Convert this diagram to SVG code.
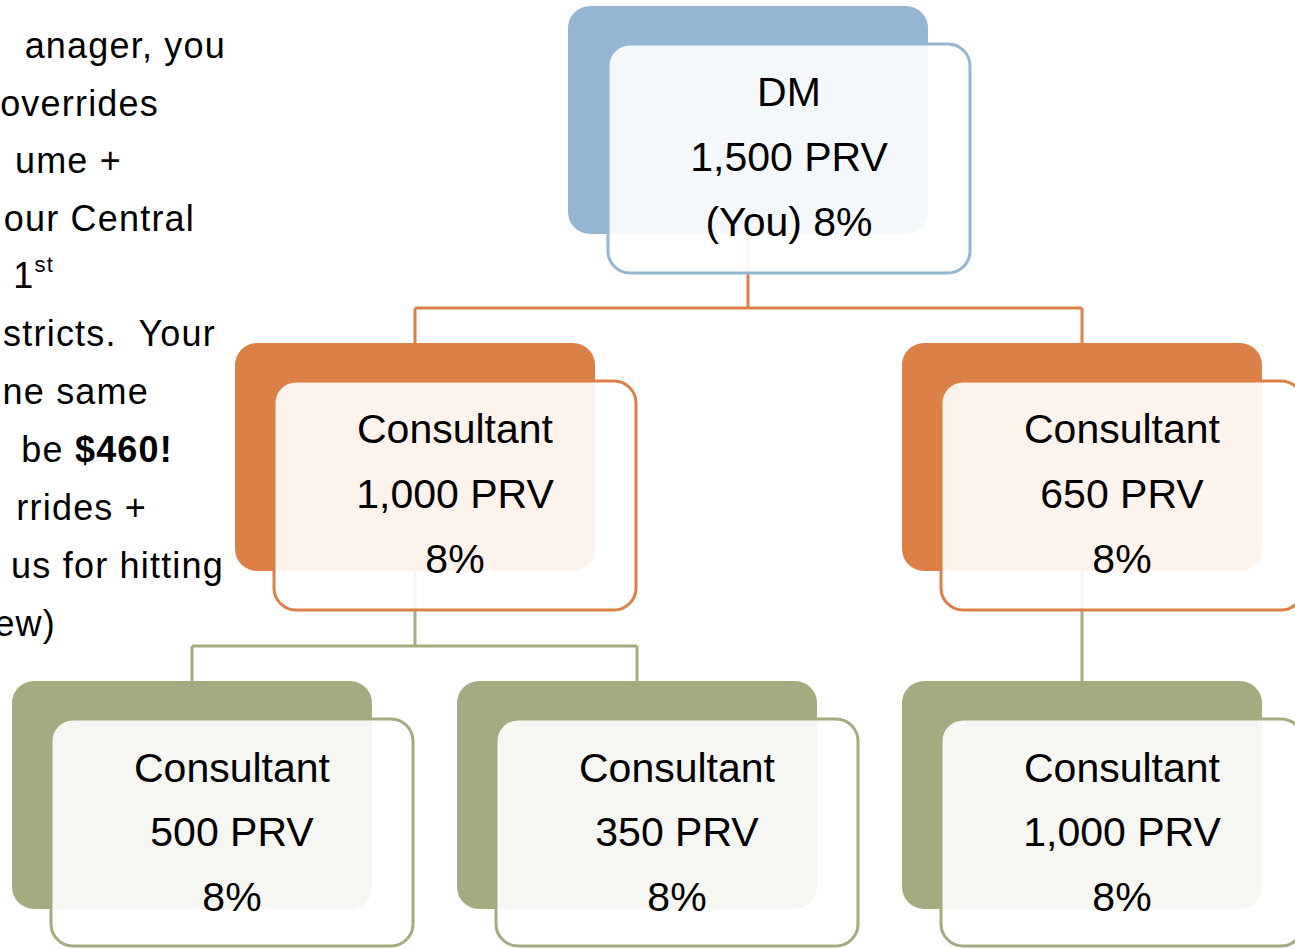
<svg xmlns="http://www.w3.org/2000/svg" width="1295" height="948" viewBox="0 0 1295 948">
<defs>
<style>
.t{font-family:"Liberation Sans",Arial,sans-serif;font-size:41px;fill:#000;text-anchor:middle}
.side{font-family:"Liberation Sans",Arial,sans-serif;font-size:36px;fill:#000;text-anchor:end;letter-spacing:1.2px}
.back{stroke:none}
.front{fill:#fff;fill-opacity:0.9;stroke-width:3}
.conn{fill:none;stroke-width:3}
.blue .back{fill:#94B6D2}.blue .front{stroke:#94B6D2}
.orange .back{fill:#DD8047}.orange .front{stroke:#DD8047}
.green .back{fill:#A5AB81}.green .front{stroke:#A5AB81}
</style>
</defs>
<rect width="1295" height="948" fill="#fff"/>
<g id="side-text">
<text class="side" x="226" y="58">anager, you</text>
<text class="side" x="159" y="116">overrides</text>
<text class="side" x="122" y="173">ume +</text>
<text class="side" x="195" y="231">our Central</text>
<text class="side" x="54" y="288">1<tspan font-size="22" dy="-16">st</tspan></text>
<text class="side" x="216" y="346" xml:space="preserve">stricts.  Your</text>
<text class="side" x="149" y="404">ne same</text>
<text class="side" x="173" y="462">be <tspan font-weight="bold">$460!</tspan></text>
<text class="side" x="147" y="520">rrides +</text>
<text class="side" x="224" y="578">us for hitting</text>
<text class="side" x="56" y="636">ew)</text>
</g>
<g id="connectors">
<path class="conn" stroke="#DD8047" d="M748,233 V308 M415,308 H1082 M415,308 V343 M1082,308 V343"/>
<path class="conn" stroke="#A5AB81" d="M415,571 V646 M192,646 H637 M192,646 V681 M637,646 V681 M1082,571 V681"/>
</g>
<g id="node-dm" class="blue">
<rect class="back" x="568" y="6" width="360" height="228" rx="22"/>
<rect class="front" x="608" y="44" width="362" height="229" rx="22"/>
<text class="t" x="789" y="106">DM</text>
<text class="t" x="789" y="171">1,500 PRV</text>
<text class="t" x="789" y="236">(You) 8%</text>
</g>
<g id="node-c1000" class="orange">
<rect class="back" x="235" y="343" width="360" height="228" rx="22"/>
<rect class="front" x="274" y="381" width="362" height="229" rx="22"/>
<text class="t" x="455" y="443">Consultant</text>
<text class="t" x="455" y="508">1,000 PRV</text>
<text class="t" x="455" y="573">8%</text>
</g>
<g id="node-c650" class="orange">
<rect class="back" x="902" y="343" width="360" height="228" rx="22"/>
<rect class="front" x="941" y="381" width="362" height="229" rx="22"/>
<text class="t" x="1122" y="443">Consultant</text>
<text class="t" x="1122" y="508">650 PRV</text>
<text class="t" x="1122" y="573">8%</text>
</g>
<g id="node-c500" class="green">
<rect class="back" x="12" y="681" width="360" height="228" rx="22"/>
<rect class="front" x="51" y="719" width="362" height="227" rx="22"/>
<text class="t" x="232" y="782">Consultant</text>
<text class="t" x="232" y="846">500 PRV</text>
<text class="t" x="232" y="911">8%</text>
</g>
<g id="node-c350" class="green">
<rect class="back" x="457" y="681" width="360" height="228" rx="22"/>
<rect class="front" x="496" y="719" width="362" height="227" rx="22"/>
<text class="t" x="677" y="782">Consultant</text>
<text class="t" x="677" y="846">350 PRV</text>
<text class="t" x="677" y="911">8%</text>
</g>
<g id="node-c1000b" class="green">
<rect class="back" x="902" y="681" width="360" height="228" rx="22"/>
<rect class="front" x="941" y="719" width="362" height="227" rx="22"/>
<text class="t" x="1122" y="782">Consultant</text>
<text class="t" x="1122" y="846">1,000 PRV</text>
<text class="t" x="1122" y="911">8%</text>
</g>
</svg>
